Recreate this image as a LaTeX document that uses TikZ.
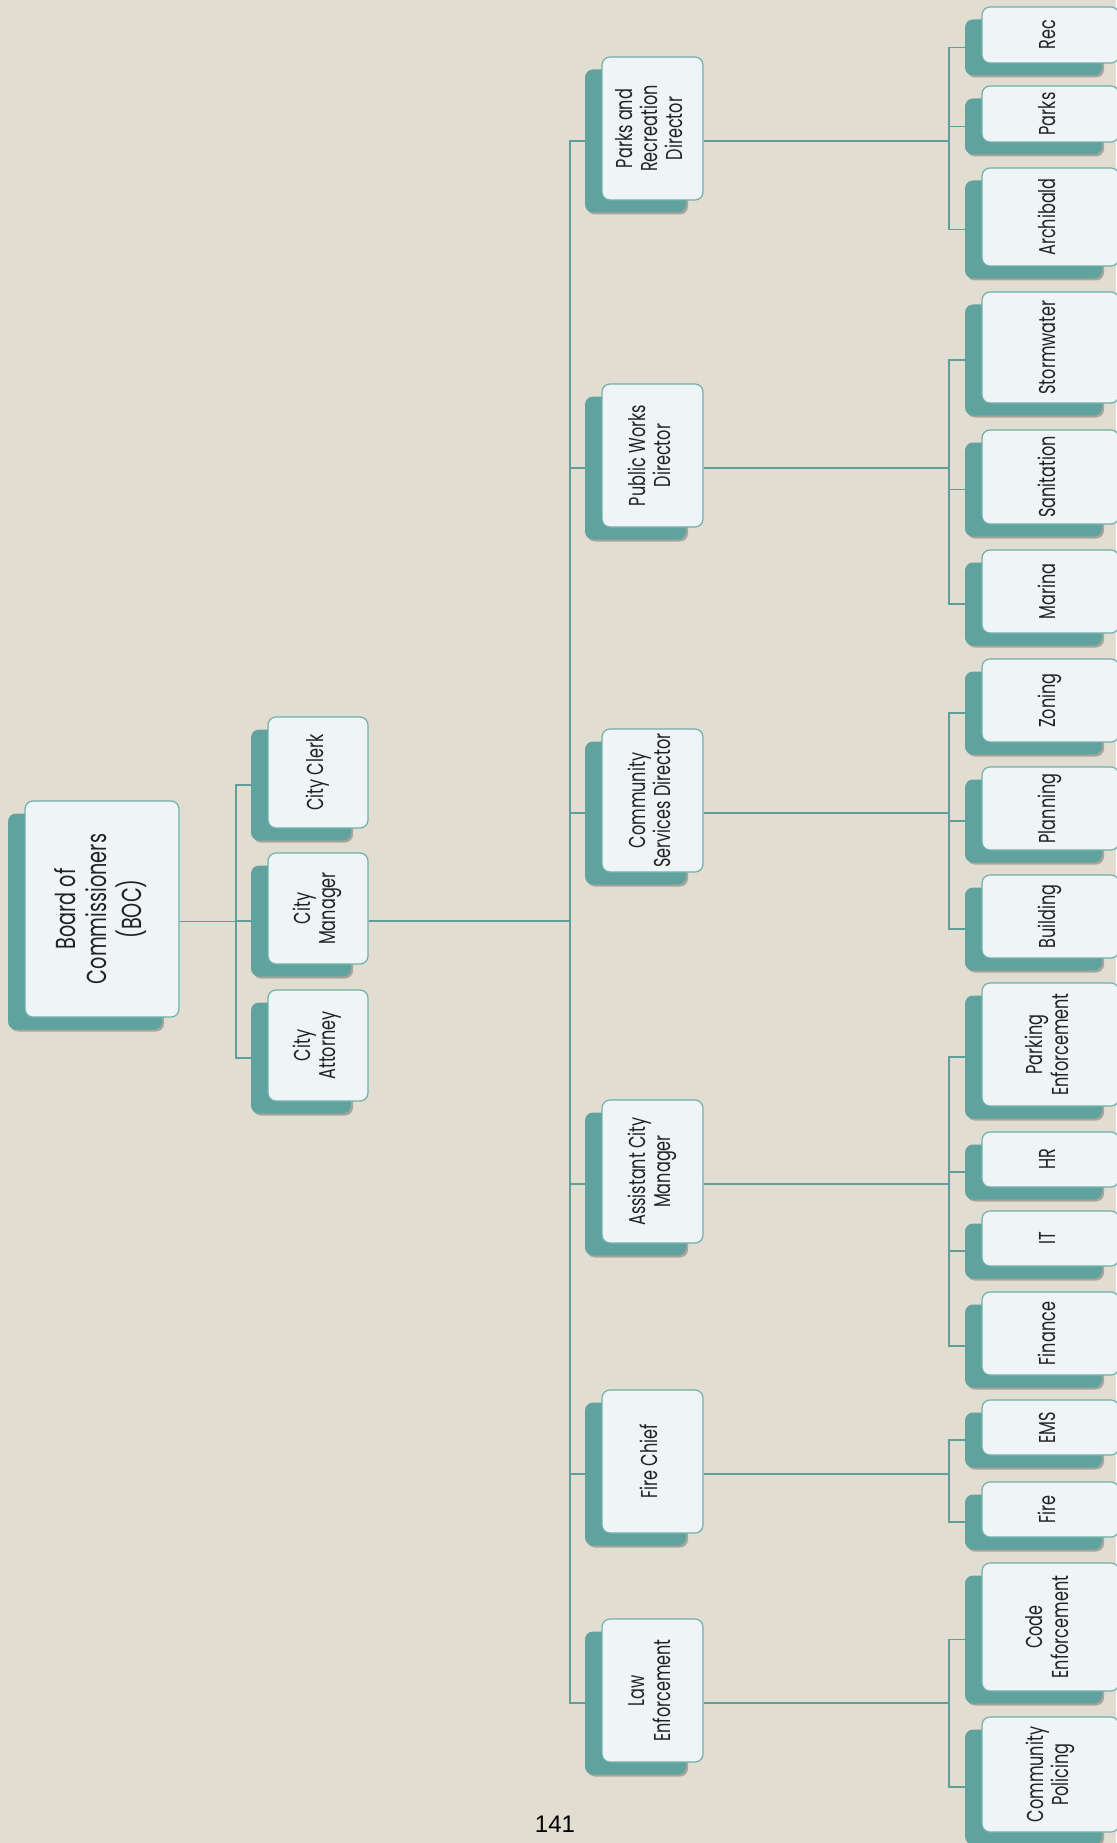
\documentclass[tikz,border=0pt]{standalone}
\usepackage{fontspec}
\setmainfont{Poppins}[FakeStretch=0.70]
\newfontfamily\pagefont{Liberation Sans}
\usetikzlibrary{shadows}
\definecolor{bg}{HTML}{E2DDD1}
\definecolor{tealback}{HTML}{60A29E}
\definecolor{frontfill}{HTML}{EFF5F6}
\definecolor{frontline}{HTML}{6FB0AC}
\definecolor{connline}{HTML}{5E9F9B}
\definecolor{txt}{HTML}{222222}
\pgfdeclarehorizontalshading{gloss}{100bp}{color(0bp)=(frontfill); color(82bp)=(frontfill); color(100bp)=(white)}
\tikzset{
  backbox/.style={draw=none, fill=tealback, rounded corners=8pt, inner sep=0pt,
    drop shadow={shadow xshift=2pt, shadow yshift=-2pt, opacity=0.25, fill=black}},
  frontbox/.style={draw=frontline, line width=1.2pt, shading=gloss, rounded corners=8pt,
    inner sep=0pt, text=txt, align=center},
  conn/.style={draw=connline, line width=1.4pt},
  bigtxt/.style={font=\fontsize{27.5}{31}\selectfont},
  smalltxt/.style={font=\fontsize{23}{25}\selectfont},
}
% name, left, top, width, height, text style, text
\newcommand\orgbox[7]{%
  \node[backbox, minimum width=#4pt, minimum height=#5pt] (#1-b) at (#2-17+#4/2, #3+12.5+#5/2) {};
  \node[frontbox, #6, minimum width=#4pt, minimum height=#5pt] (#1) at (#2+#4/2, #3+#5/2)
    {\rotatebox{90}{\begin{tabular}{@{}c@{}}#7\end{tabular}}};
}
\begin{document}
\begin{tikzpicture}[x=1pt, y=-1pt]
\useasboundingbox[fill=bg] (0,0) rectangle (1116,1843);
% level 0
\orgbox{boc}{25}{801}{154}{216}{bigtxt}{Board of\\Commissioners\\(BOC)}
% level 1
\orgbox{clerk}{268}{717}{100}{111}{smalltxt}{City Clerk}
\orgbox{mgr}{268}{853}{100}{111}{smalltxt}{City\\Manager}
\orgbox{atty}{268}{990}{100}{111}{smalltxt}{City\\Attorney}
% level 2
\orgbox{pr}{602}{57}{101}{143}{smalltxt}{Parks and\\Recreation\\Director}
\orgbox{pw}{602}{384}{101}{143}{smalltxt}{Public Works\\Director}
\orgbox{cs}{602}{729}{101}{143}{smalltxt}{Community\\Services Director}
\orgbox{acm}{602}{1100}{101}{143}{smalltxt}{Assistant City\\Manager}
\orgbox{fc}{602}{1390}{101}{143}{smalltxt}{Fire Chief}
\orgbox{le}{602}{1619}{101}{143}{smalltxt}{Law\\Enforcement}
% leaves
\orgbox{rec}{982}{7}{137}{56}{smalltxt}{Rec}
\orgbox{parks}{982}{86}{137}{56}{smalltxt}{Parks}
\orgbox{arch}{982}{168}{137}{98}{smalltxt}{Archibald}
\orgbox{storm}{982}{292}{137}{111}{smalltxt}{Stormwater}
\orgbox{sanit}{982}{430}{137}{94}{smalltxt}{Sanitation}
\orgbox{marina}{982}{550}{137}{83}{smalltxt}{Marina}
\orgbox{zoning}{982}{659}{137}{83}{smalltxt}{Zoning}
\orgbox{planning}{982}{767}{137}{83}{smalltxt}{Planning}
\orgbox{building}{982}{875}{137}{83}{smalltxt}{Building}
\orgbox{parking}{982}{983}{137}{123}{smalltxt}{Parking\\Enforcement}
\orgbox{hr}{982}{1132}{137}{55}{smalltxt}{HR}
\orgbox{it}{982}{1211}{137}{55}{smalltxt}{IT}
\orgbox{finance}{982}{1292}{137}{83}{smalltxt}{Finance}
\orgbox{ems}{982}{1400}{137}{55}{smalltxt}{EMS}
\orgbox{fire}{982}{1482}{137}{55}{smalltxt}{Fire}
\orgbox{code}{982}{1563}{137}{128}{smalltxt}{Code\\Enforcement}
\orgbox{cp}{982}{1717}{137}{115}{smalltxt}{Community\\Policing}
% buses
\coordinate (busA) at (236,0);
\coordinate (busB) at (570,0);
\coordinate (busC) at (949,0);
% connectors
\foreach \c in {clerk,mgr,atty}
  \draw[conn] (boc.east |- boc-b.center) -- (busA |- boc-b.center) |- (\c-b.west);
\foreach \c in {pr,pw,cs,acm,fc,le}
  \draw[conn] (mgr.east |- mgr-b.center) -- (busB |- mgr-b.center) |- (\c-b.west);
\foreach \p/\c in {pr/rec,pr/parks,pr/arch,pw/storm,pw/sanit,pw/marina,
    cs/zoning,cs/planning,cs/building,acm/parking,acm/hr,acm/it,acm/finance,
    fc/ems,fc/fire,le/code,le/cp}
  \draw[conn] (\p.east |- \p-b.center) -- (busC |- \p-b.center) |- (\c-b.west);
% page number
\node[font=\pagefont\fontsize{24}{24}\selectfont, text=black] (pagenum) at (555,1824) {141};
\end{tikzpicture}
\end{document}
